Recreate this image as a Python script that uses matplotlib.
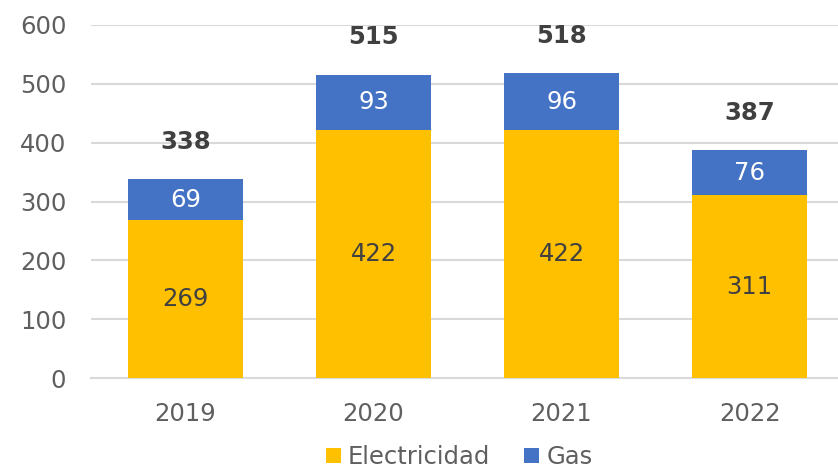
import matplotlib
matplotlib.use("Agg")
import matplotlib.pyplot as plt
import numpy as np

years = ["2019", "2020", "2021", "2022"]
electricidad = [269, 422, 422, 311]
gas = [69, 93, 96, 76]
totales = [338, 515, 518, 387]

YELLOW = "#FFC000"
BLUE = "#4472C4"
GRAY = "#5F5F5F"
FS = 17.5

plt.rcParams["font.family"] = "DejaVu Sans"

fig = plt.figure(figsize=(8.38, 4.71), dpi=100)
ax = fig.add_axes([0.109, 0.197, 0.891, 0.75])

x = np.arange(len(years))
w = 0.61
ax.bar(x, electricidad, width=w, color=YELLOW, label="Electricidad", zorder=3)
ax.bar(x, gas, width=w, bottom=electricidad, color=BLUE, label="Gas", zorder=3)

for i in range(len(years)):
    ax.text(x[i], electricidad[i] / 2, str(electricidad[i]), ha="center", va="center",
            fontsize=FS, color="#404040", zorder=4)
    ax.text(x[i], electricidad[i] + gas[i] / 2, str(gas[i]), ha="center", va="center",
            fontsize=FS, color="white", zorder=4)
    ax.text(x[i], totales[i] + 64, str(totales[i]), ha="center", va="center",
            fontsize=FS, fontweight="bold", color="#404040", zorder=4)

ax.set_xlim(-0.5, 3.47)
ax.set_ylim(0, 600)
ax.set_yticks(range(0, 601, 100))
ax.set_xticks(x)
ax.set_xticklabels(years)
ax.tick_params(axis="both", length=0, labelsize=FS, labelcolor=GRAY)
ax.tick_params(axis="y", pad=18)
ax.tick_params(axis="x", pad=17)
ax.grid(True, axis="y", color="#D9D9D9", linewidth=1.5, zorder=0)
for side in ["top", "right", "left"]:
    ax.spines[side].set_visible(False)
ax.spines["bottom"].set_color("#D9D9D9")
ax.spines["bottom"].set_linewidth(1.5)

fig.legend(loc="center", bbox_to_anchor=(0.548, 0.03), ncol=2, frameon=False,
           fontsize=FS, labelcolor=GRAY, handlelength=0.6, handleheight=0.6,
           handletextpad=0.3, columnspacing=1.4)

fig.savefig("out.png", dpi=100)
